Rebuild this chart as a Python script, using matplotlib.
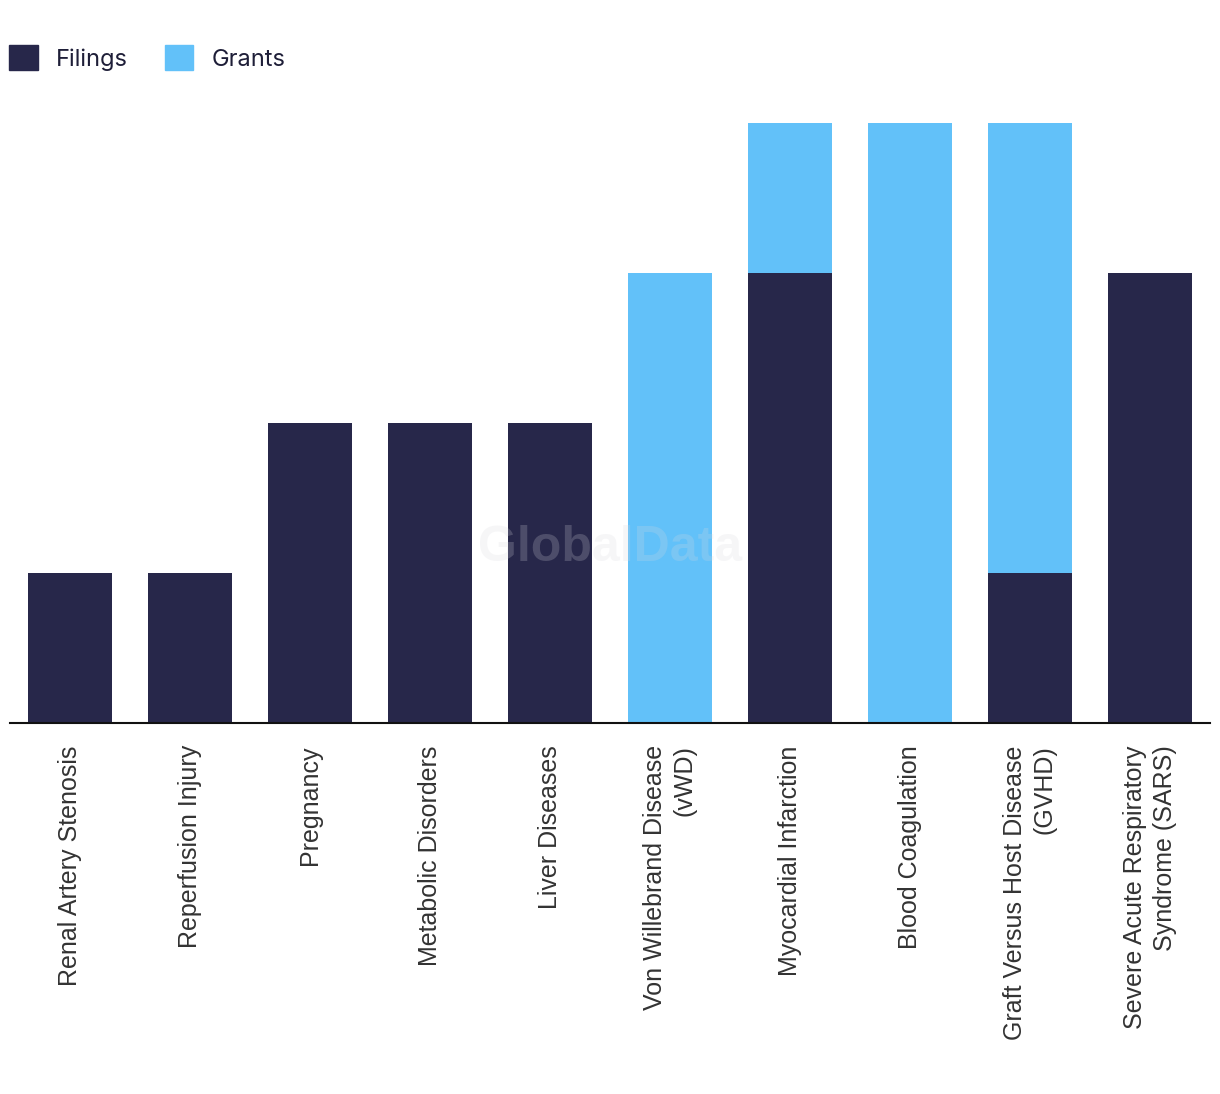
import matplotlib
matplotlib.use("Agg")
import matplotlib.pyplot as plt
from matplotlib.patches import Patch
import numpy as np

categories = ["Renal Artery Stenosis", "Reperfusion Injury", "Pregnancy",
              "Metabolic Disorders", "Liver Diseases",
              "Von Willebrand Disease\n(vWD)", "Myocardial Infarction",
              "Blood Coagulation", "Graft Versus Host Disease\n(GVHD)",
              "Severe Acute Respiratory\nSyndrome (SARS)"]
filings = [1, 1, 2, 2, 2, 0, 3, 0, 1, 3]
grants = [0, 0, 0, 0, 0, 3, 1, 4, 3, 0]

dark = "#27274a"
light = "#62c1f9"

W, H = 1220, 1094
fig = plt.figure(figsize=(W / 100, H / 100), dpi=100)
ax = fig.add_axes([10 / W, 1 - 723 / H, 1200 / W, 600 / H])

x = np.arange(len(categories))
ax.bar(x, filings, width=0.7, color=dark, zorder=2)
ax.bar(x, grants, width=0.7, bottom=filings, color=light, zorder=2)

ax.set_xlim(-0.5, len(categories) - 0.5)
ax.set_ylim(0, 4)
ax.set_yticks([])
ax.set_xticks(x)
ax.set_xticklabels(categories, rotation=90, ha="center", va="top",
                   multialignment="right", fontsize=18, linespacing=1.3,
                   family=["Liberation Sans", "DejaVu Sans"], color="#333333")
ax.tick_params(axis="x", length=0, pad=16)
for s in ["top", "right", "left"]:
    ax.spines[s].set_visible(False)
ax.spines["bottom"].set_linewidth(1.5)
ax.spines["bottom"].set_color("#111111")
ax.spines["bottom"].set_zorder(3)

fig.text(610 / W, 1 - 548 / H, "GlobalData", ha="center", va="center",
         fontsize=36, fontweight="bold", color="#d8d8de", alpha=0.22,
         family=["Liberation Sans", "DejaVu Sans"], zorder=5)

handles = [Patch(color=dark, label="Filings"), Patch(color=light, label="Grants")]
fig.legend(handles=handles, loc="upper left", bbox_to_anchor=(0.0, 1 - 36 / H),
           ncol=2, frameon=False, handlelength=1.2, handleheight=1.2,
           handletextpad=0.75, columnspacing=1.6, borderaxespad=0.0,
           labelcolor="#1e1e38",
           prop={"family": ["Inter", "DejaVu Sans"], "size": 17})

fig.savefig("out.png", dpi=100)
